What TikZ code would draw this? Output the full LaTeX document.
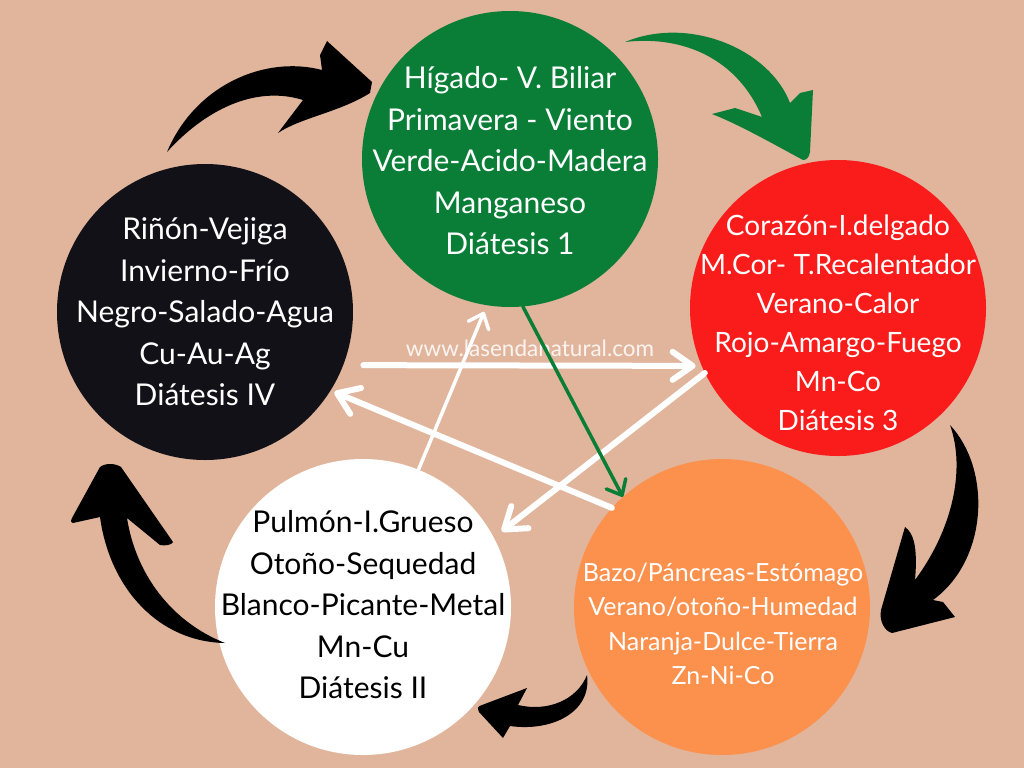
\documentclass[tikz,border=0pt]{standalone}
\usepackage{fontspec}
\setmainfont{Lato}
\usetikzlibrary{arrows.meta}

\definecolor{bgpeach}{HTML}{E1B59C}
\definecolor{higgreen}{HTML}{0A7E37}
\definecolor{corred}{HTML}{FA1B1B}
\definecolor{bazoorange}{HTML}{FC914E}
\definecolor{rinblack}{HTML}{111117}

\begin{document}
\begin{tikzpicture}[x=1pt, y=-1pt,
        organ/.style={circle, minimum size=296pt, inner sep=0pt},
        organtext/.style={align=center, text=white, inner sep=0pt},
        bigtext/.style={font=\fontsize{30}{41.5}\selectfont},
        whitearrow/.style={draw=white, line width=6pt, line cap=round,
                -{Straight Barb[length=20pt, width=28pt, line cap=round, line join=round]}},
        thinarrow/.style={line width=3.5pt, line cap=round,
                -{Straight Barb[length=13pt, width=22pt, line cap=round, line join=round]}}]
        % Background
        \fill[bgpeach] (0,0) rectangle (1024,768);
        \useasboundingbox (0,0) rectangle (1024,768);

        % Circles
        \node[organ, fill=higgreen] (higado) at (510,159) {};
        \node[organ, fill=corred] (corazon) at (838,308) {};
        \node[organ, fill=bazoorange] (bazo) at (722,607) {};
        \node[organ, fill=white] (pulmon) at (363,607) {};
        \node[organ, fill=rinblack] (rinon) at (205,312) {};

        % Texts
        \node[organtext, bigtext] (higadotxt) at (510,161) {Hígado- V. Biliar\\Primavera - Viento\\Verde-Acido-Madera\\Manganeso\\Diátesis 1};
        \node[organtext, font=\fontsize{28}{39}\selectfont] (corazontxt) at (838,323) {Corazón-I.delgado\\M.Cor- T.Recalentador\\Verano-Calor\\Rojo-Amargo-Fuego\\Mn-Co\\Diátesis 3};
        \node[organtext, font=\fontsize{25}{34.5}\selectfont] (bazotxt) at (723,624) {Bazo/Páncreas-Estómago\\Verano/otoño-Humedad\\Naranja-Dulce-Tierra\\Zn-Ni-Co};
        \node[organtext, bigtext, text=black] (pulmontxt) at (363,605) {Pulmón-I.Grueso\\Otoño-Sequedad\\Blanco-Picante-Metal\\Mn-Cu\\Diátesis II};
        \node[organtext, bigtext] (rinontxt) at (205,312) {Riñón-Vejiga\\Invierno-Frío\\Negro-Salado-Agua\\Cu-Au-Ag\\Diátesis IV};

        % Web address
        \node[text=white, opacity=0.85, font=\fontsize{22.5}{22.5}\selectfont] (web) at (530,348) {www.lasendanatural.com};

        % Straight arrows across the middle
        \draw[whitearrow, shorten <=20pt, shorten >=6pt] (rinon.-21) -- (corazon.203);
        \draw[whitearrow, shorten >=4pt] (bazo.138) -- (rinon.-32);
        \draw[whitearrow, shorten >=10pt] (corazon.206) -- (pulmon.28);
        \draw[thinarrow, draw=white, shorten >=7pt] (pulmon.68) -- (higado.261);
        \draw[thinarrow, draw=higgreen] (higado.275) -- (bazo.132);

        % Curved brush arrows round the circle
        \coordinate (tail1) at (167,152);
        \coordinate (tail2) at (625,42);
        \coordinate (tail3) at (950,425);
        \coordinate (tail4) at (587,675);
        \coordinate (tail5) at (225,643);
        \fill[black] (tail1) .. controls (195,85) and (265,55) .. (322,70) -- (320,55) -- (327,41) -- (372,82)
                -- (370,93) .. controls (340,112) and (300,118) .. (278,133) -- (303,100)
                .. controls (255,85) and (205,110) .. (tail1) -- cycle;
        \fill[higgreen] (tail2) .. controls (690,15) and (770,50) .. (790,103) -- (800,93) -- (813,90) -- (810,152)
                .. controls (809,158) and (806,160) .. (803,160) .. controls (775,145) and (740,125) .. (712,114)
                -- (735,108) -- (762,117) .. controls (738,60) and (685,35) .. (tail2) -- cycle;
        \fill[black] (tail3) .. controls (992,470) and (988,560) .. (933,600) -- (943,602) -- (955,617) -- (892,633)
                .. controls (884,631) and (879,620) .. (881,610) -- (905,527) .. controls (913,533) and (918,545) .. (915,580)
                .. controls (952,530) and (966,470) .. (tail3) -- cycle;
        \fill[black] (tail4) .. controls (592,712) and (552,732) .. (510,726) -- (503,738) -- (479,712)
                .. controls (477,708) and (478,706) .. (482,705) -- (527,688) -- (518,705)
                .. controls (548,712) and (577,700) .. (tail4) -- cycle;
        \fill[black] (tail5) .. controls (160,642) and (110,590) .. (100,517) -- (73,523)
                .. controls (70,522) and (71,520) .. (72,518) -- (100,467) .. controls (105,463) and (115,463) .. (121,467)
                -- (173,542) .. controls (172,545) and (165,546) .. (160,545) -- (127,518)
                .. controls (136,575) and (172,622) .. (tail5) -- cycle;
\end{tikzpicture}
\end{document}
